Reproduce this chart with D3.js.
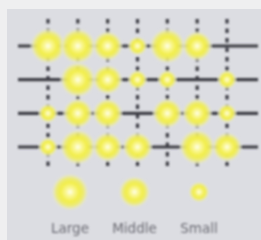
<!DOCTYPE html>
<html><head><meta charset="utf-8">
<script src="https://cdn.jsdelivr.net/npm/d3@7"></script>
<style>html,body{margin:0;padding:0;background:#efeff0;}svg{display:block;}</style>
</head><body>
<svg id="c" width="261" height="240"></svg>
<script>
const columns = ["c1","c2","c3","c4","c5","c6","c7"];
const rows = ["r1","r2","r3","r4"];
// size class per row (L = Large, M = Middle, S = Small, "" = none)
const row1 = ["L","L","M","S","L","M",""];
const row2 = ["","L","M","S","S","","S"];
const row3 = ["S","M","M","","M","M","S"];
const row4 = ["S","L","M","M","","L","M"];
const legendLabels = ["Large","Middle","Small"];
const legendKeys = ["L","M","S"];

const svg = d3.select("#c");
const defs = svg.append("defs");
const g = defs.append("radialGradient").attr("id","glow");
g.append("stop").attr("offset","0%").attr("stop-color","#fffff2");
g.append("stop").attr("offset","18%").attr("stop-color","#fbf8a0");
g.append("stop").attr("offset","50%").attr("stop-color","#f2ee48");
g.append("stop").attr("offset","72%").attr("stop-color","#eeec68").attr("stop-opacity",0.9);
g.append("stop").attr("offset","88%").attr("stop-color","#e6e6c4").attr("stop-opacity",0.85);
g.append("stop").attr("offset","100%").attr("stop-color","#dcdde2").attr("stop-opacity",0);
defs.append("filter").attr("id","soft").append("feGaussianBlur").attr("stdDeviation",0.9);

svg.append("rect").attr("x",7).attr("y",9).attr("width",254).attr("height",231).attr("fill","#dcdde2");

const x = d3.scalePoint().domain(columns).range([48,227]);
const y = d3.scalePoint().domain(rows).range([46,147]);
const r = d3.scaleOrdinal().domain(["L","M","S"]).range([18,15,9.5]);

const layer = svg.append("g").attr("filter","url(#soft)");
layer.selectAll("line.v").data(columns).join("line")
  .attr("x1",d=>x(d)).attr("x2",d=>x(d)).attr("y1",19).attr("y2",168)
  .attr("stroke","#3c3c44").attr("stroke-width",3.2).attr("stroke-dasharray","4.5,5");
layer.selectAll("line.h").data(rows).join("line")
  .attr("x1",18).attr("x2",258).attr("y1",d=>y(d)).attr("y2",d=>y(d))
  .attr("stroke","#3c3c44").attr("stroke-width",3.2);

const allRows = [row1,row2,row3,row4];
const cells = [];
allRows.forEach((arr,i)=>arr.forEach((s,j)=>{ if(s) cells.push({row:rows[i],col:columns[j],s}); }));
layer.selectAll("circle.b").data(cells).join("circle")
  .attr("cx",d=>x(d.col)).attr("cy",d=>y(d.row)).attr("r",d=>r(d.s)).attr("fill","url(#glow)");

const lx = d3.scalePoint().domain(legendKeys).range([70,199]);
layer.selectAll("circle.l").data(legendKeys).join("circle")
  .attr("cx",d=>lx(d)).attr("cy",192).attr("r",d=>r(d)+1).attr("fill","url(#glow)");
layer.selectAll("text").data(legendKeys).join("text")
  .attr("x",d=>lx(d)).attr("y",233).attr("text-anchor","middle")
  .attr("font-family","DejaVu Sans, sans-serif").attr("font-size",13.5).attr("fill","#6c6c74")
  .text((d,i)=>legendLabels[i]);
</script>
</body></html>
